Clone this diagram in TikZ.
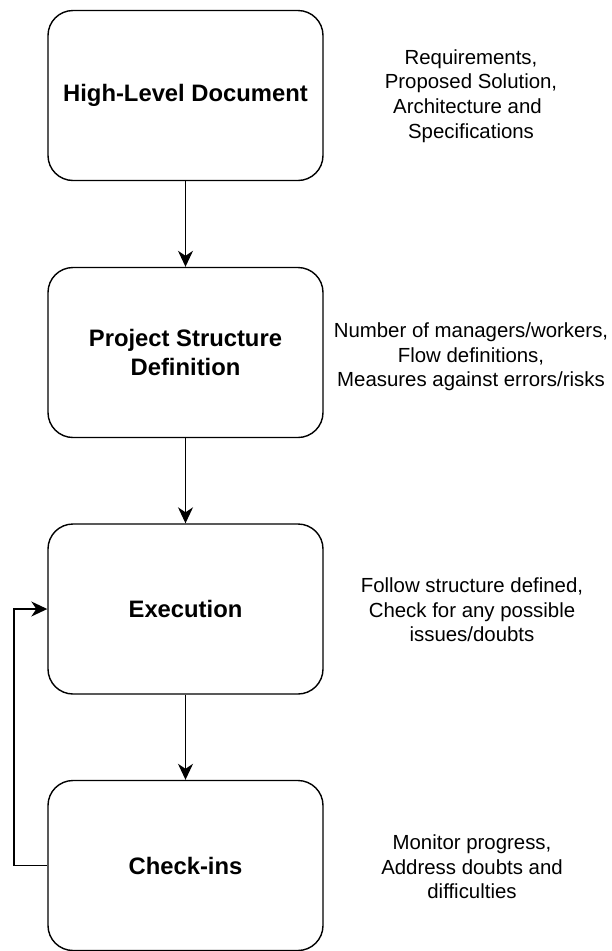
\documentclass[tikz,border=0pt]{standalone}
\usepackage{fontspec}
\setmainfont{Liberation Sans}
\usetikzlibrary{arrows.meta}
\begin{document}
\begin{tikzpicture}[x=1pt,y=-1pt,
  stage/.style={draw=black, line width=1.4pt, rounded corners=25pt,
    minimum width=275pt, minimum height=170pt, inner sep=4pt, align=center,
    font=\fontsize{23.8}{29.5}\selectfont\bfseries},
  note/.style={align=center, inner sep=0pt,
    font=\fontsize{20.4}{24.6}\selectfont},
  flow/.style={line width=1.4pt, -{Stealth[length=16pt,width=15pt,inset=5pt]}}]
  \useasboundingbox (0,0) rectangle (611,951);

  % process stages
  \node[stage] (hld) at (185.5,95.5) {High-Level Document};
  \node[stage] (psd) at (185.5,352.5) {Project Structure\\Definition};
  \node[stage] (exe) at (185.5,609) {Execution};
  \node[stage] (chk) at (185.5,865.5) {Check-ins};

  % descriptions beside each stage
  \node[note] (n1) at (471,96) {Requirements,\\Proposed Solution,\\Architecture and\kern7pt\\Specifications};
  \node[note] (n2) at (471,357) {Number of managers/workers,\\Flow definitions,\\Measures against errors/risks};
  \node[note] (n3) at (472,610) {Follow structure defined,\\Check for any possible\\issues/doubts};
  \node[note] (n4) at (472,867) {Monitor progress,\\Address doubts and\\difficulties};

  % connectors
  \draw[flow] (hld) -- (psd);
  \draw[flow] (psd) -- (exe);
  \draw[flow] (exe) -- (chk);
  \coordinate (back) at (14,865.5);
  \draw[flow] (chk.west) -- (back) |- (exe.west);
\end{tikzpicture}
\end{document}
